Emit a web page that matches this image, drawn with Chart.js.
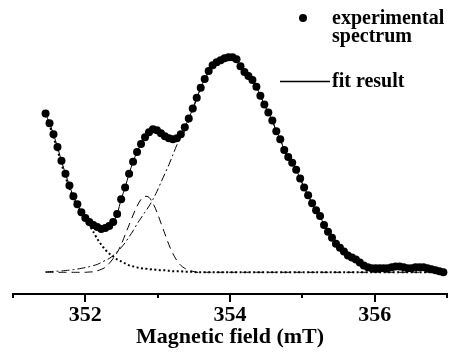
<!DOCTYPE html>
<html>
<head>
<meta charset="utf-8">
<script src="https://cdn.jsdelivr.net/npm/chart.js@4.4.1/dist/chart.umd.min.js"></script>
<style>
  html, body { margin: 0; padding: 0; background: #fff; }
  #wrap { position: relative; width: 451px; height: 356px; }
</style>
</head>
<body>
<div id="wrap"><canvas id="c" width="451" height="356"></canvas></div>
<script>
// Magnetic field (mT) sampling positions
const field = [
  351.450,351.505,351.560,351.615,351.670,351.725,351.780,351.835,351.890,351.945,
  352.000,352.055,352.110,352.165,352.220,352.275,352.330,352.385,352.440,352.495,
  352.550,352.605,352.660,352.715,352.770,352.825,352.880,352.935,352.990,353.045,
  353.100,353.155,353.210,353.265,353.320,353.375,353.430,353.485,353.540,353.595,
  353.650,353.705,353.760,353.815,353.870,353.925,353.980,354.035,354.090,354.145,
  354.200,354.255,354.310,354.365,354.420,354.475,354.530,354.585,354.640,354.695,
  354.750,354.805,354.860,354.915,354.970,355.025,355.080,355.135,355.190,355.245,
  355.300,355.355,355.410,355.465,355.520,355.575,355.630,355.685,355.740,355.795,
  355.850,355.905,355.960,356.015,356.070,356.125,356.180,356.235,356.290,356.345,
  356.400,356.455,356.510,356.565,356.620,356.675,356.730,356.785,356.840,356.895,
  356.950
];

// Experimental spectrum (arb. units)
const experimental = [
  161,151,140,127,113,100,88,77,69,61,
  55,51,48,46,44,45,47,51,59,74,
  86,100,112,122,130,137,142,145,144,141,
  138,136,135,136,140,147,156,166,177,187,
  196,204,210,213,215,217,218,218,216,209,
  203,199,195,188,179,170,162,154,143,135,
  124,117,111,104,95,86,78,70,63,57,
  48,41,35,29,25,21,17,15,13,10,
  7,5,4,4,4,4,4,5,6,6,
  5,4,4,5,5,5,4,3,2,1,
  0
];

// Fit result
const fitResult = [
  161,151,140,127,113,100,88,77,69,61,
  55,51,48,46,44,45,47,51,59,74,
  86,100,112,122,130,137,141,144,144,141,
  138,136,135,136,140,147,156,166,177,187,
  196,204,209,212,214,215,216,216,214,209,
  203,199,195,188,179,170,162,154,143,135,
  124,117,111,104,95,86,78,70,63,57,
  48,41,35,29,25,21,17,15,13,10,
  7,5,4,4,4,4,4,5,6,6,
  5,4,4,5,5,5,4,3,2,1,
  0
];

// Component 1 (dotted, low-field tail)
const compDotted = [
  159,149,137,124,110,97,85,75,67,60,
  54,48,41,34,28,23,19,16,13,11,
  9,7,6,5,4,4,3,3,2.5,2,
  2,1.5,1,1,1,0.5,0.5,0.5,0,0,
  0,0,0,0,0,0,0,0,0,0,
  0,0,0,0,0,0,0,0,0,0,
  0,0,0,0,0,0,0,0,0,0,
  0,0,0,0,0,0,0,0,0,0,
  0,0,0,0,0,0,0,0,0,0,
  0,0,0,0,0,0,0,0,0,0,
  0
];

// Component 2 (dashed, narrow line near 352.8 mT)
const compDashed = [
  0,0,0,0,0,0,0,0,0,0,
  0,0.3,0.5,1.5,3,5,9,14,20,28,
  38,48,58,67,74,77,76,70,61,50,
  39,28,19,12,7,4,2,1,0,0,
  0,0,0,0,0,0,0,0,0,0,
  0,0,0,0,0,0,0,0,0,0,
  0,0,0,0,0,0,0,0,0,0,
  0,0,0,0,0,0,0,0,0,0,
  0,0,0,0,0,0,0,0,0,0,
  0,0,0,0,0,0,0,0,0,0,
  0
];

// Component 3 (dash-dot, main line near 354 mT)
const compDashDot = [
  0.5,0.7,0.9,1.1,1.4,1.8,2.2,2.7,3.3,4,
  4.8,5.7,6.8,8,10,12,14,17,21,25,
  30,36,42,49,55,61,67,74,82,91,
  100,109,119,129,137,143,153,164,176,186,
  195,203,209,212,214,215,216,216,214,209,
  203,199,195,188,179,170,162,154,143,135,
  124,117,111,104,95,86,78,70,63,57,
  48,41,35,29,25,21,17,15,13,10,
  7,5,4,4,4,4,4,5,6,6,
  5,4,4,5,5,5,4,3,2,1,
  0
];

const majorTicks = [352, 354, 356];
const minorTicks = [351, 353, 355, 357];
const axisTitle = 'Magnetic field (mT)';
const legendExp = ['experimental', 'spectrum'];
const legendFit = 'fit result';

const pts = arr => field.map((x, i) => ({ x: x, y: arr[i] }));
const SERIF = "'Liberation Serif', 'Times New Roman', serif";

const minorTickPlugin = {
  id: 'minorTicks',
  afterDraw(chart) {
    const ctx = chart.ctx;
    const xs = chart.scales.x;
    const y0 = chart.chartArea.bottom;
    ctx.save();
    ctx.strokeStyle = '#000';
    ctx.lineWidth = 2;
    minorTicks.forEach(v => {
      const px = Math.round(xs.getPixelForValue(v));
      ctx.beginPath();
      ctx.moveTo(px, y0);
      ctx.lineTo(px, y0 + 4);
      ctx.stroke();
    });
    ctx.restore();
  }
};

const legendPlugin = {
  id: 'customLegend',
  afterDraw(chart) {
    const ctx = chart.ctx;
    ctx.save();
    ctx.fillStyle = '#000';
    ctx.strokeStyle = '#000';
    ctx.beginPath();
    ctx.arc(303, 18, 4, 0, Math.PI * 2);
    ctx.fill();
    ctx.font = "bold 20px " + SERIF;
    ctx.textBaseline = 'alphabetic';
    ctx.textAlign = 'left';
    ctx.fillText(legendExp[0], 332, 24);
    ctx.fillText(legendExp[1], 332, 42);
    ctx.lineWidth = 1.5;
    ctx.beginPath();
    ctx.moveTo(280, 81.5);
    ctx.lineTo(330, 81.5);
    ctx.stroke();
    ctx.fillText(legendFit, 332, 87);
    ctx.restore();
  }
};

new Chart(document.getElementById('c'), {
  type: 'scatter',
  data: {
    datasets: [
      {
        label: 'experimental spectrum',
        data: pts(experimental),
        showLine: false,
        pointRadius: 4,
        pointBackgroundColor: '#000',
        pointBorderColor: '#000',
        pointBorderWidth: 0
      },
      {
        label: 'fit result',
        data: pts(fitResult),
        showLine: true,
        borderColor: '#000',
        borderWidth: 1,
        pointRadius: 0,
        tension: 0.3
      },
      {
        label: 'component 1',
        data: pts(compDotted),
        showLine: true,
        borderColor: '#000',
        borderWidth: 2,
        borderDash: [2, 2.5],
        pointRadius: 0,
        tension: 0.3
      },
      {
        label: 'component 2',
        data: pts(compDashed),
        showLine: true,
        borderColor: '#000',
        borderWidth: 1,
        borderDash: [8, 5],
        pointRadius: 0,
        tension: 0.3
      },
      {
        label: 'component 3',
        data: pts(compDashDot),
        showLine: true,
        borderColor: '#000',
        borderWidth: 1,
        borderDash: [8, 3, 2, 3],
        pointRadius: 0,
        tension: 0.3
      }
    ]
  },
  options: {
    responsive: false,
    animation: false,
    devicePixelRatio: 1,
    clip: false,
    layout: { padding: { left: 13, right: 1, top: 0, bottom: 0 } },
    plugins: { legend: { display: false }, tooltip: { enabled: false } },
    scales: {
      x: {
        type: 'linear',
        position: 'bottom',
        min: 351,
        max: 357,
        afterBuildTicks: s => {
          s.ticks = majorTicks.concat(minorTicks).sort((a, b) => a - b).map(v => ({ value: v }));
        },
        afterFit: s => { s.height = 62; },
        ticks: {
          autoSkip: false,
          maxRotation: 0,
          padding: 0,
          color: '#000',
          font: { family: SERIF, size: 22, weight: 'bold' },
          callback: v => majorTicks.includes(Math.round(v)) ? String(Math.round(v)) : ''
        },
        grid: {
          drawOnChartArea: false,
          drawTicks: true,
          tickLength: 8,
          lineWidth: 2,
          color: c => (c.tick && majorTicks.includes(Math.round(c.tick.value))) ? '#000' : 'rgba(0,0,0,0)'
        },
        border: { display: true, color: '#000', width: 2 },
        title: {
          display: true,
          text: axisTitle,
          color: '#000',
          font: { family: SERIF, size: 22, weight: 'bold' },
          padding: { top: 0, bottom: 5 }
        }
      },
      y: {
        type: 'linear',
        display: false,
        min: -22,
        max: 272
      }
    }
  },
  plugins: [minorTickPlugin, legendPlugin]
});
</script>
</body>
</html>
